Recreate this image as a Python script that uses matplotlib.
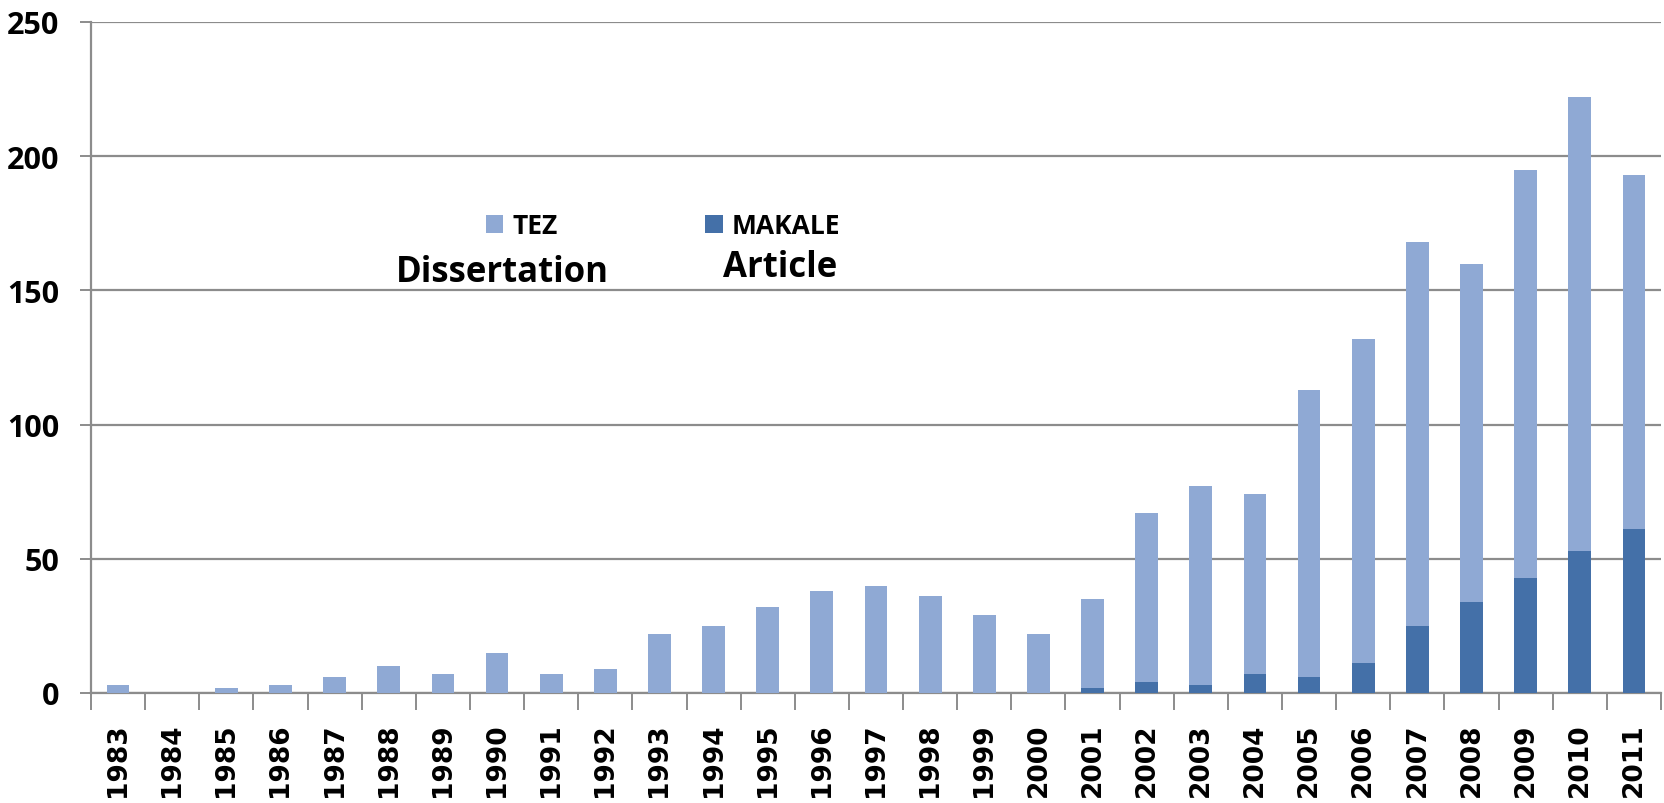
import numpy as np
import matplotlib
matplotlib.use('Agg')
import matplotlib.pyplot as plt
from matplotlib.ticker import MultipleLocator

# data
years = [str(y) for y in range(1983, 2012)]
makale = [0, 0, 0, 0, 0, 0, 0, 0, 0, 0, 0, 0, 0, 0, 0, 0, 0, 0,
          2, 4, 3, 7, 6, 11, 25, 34, 43, 53, 61]
tez = [3, 0, 2, 3, 6, 10, 7, 15, 7, 9, 22, 25, 32, 38, 40, 36, 29, 22,
       33, 63, 74, 67, 107, 121, 143, 126, 152, 169, 132]

tez_color = '#8FA9D4'
makale_color = '#4470A8'
grid_color = '#8c8c8c'

W, H = 1665, 804
fig = plt.figure(figsize=(W / 100, H / 100), dpi=100)
ax = fig.add_axes([91 / W, 110 / H, 1570 / W, 671 / H])

x = np.arange(len(years))
b_mak = ax.bar(x, makale, width=0.42, color=makale_color, zorder=3, label='MAKALE')
b_tez = ax.bar(x, tez, width=0.42, bottom=makale, color=tez_color, zorder=3, label='TEZ')

ax.set_xlim(-0.5, len(years) - 0.5)
ax.set_ylim(0, 250)
ax.yaxis.set_major_locator(MultipleLocator(50))
ax.grid(axis='y', color=grid_color, linewidth=1.6, zorder=0)

for side in ['top', 'right']:
    ax.spines[side].set_visible(False)
for side in ['left', 'bottom']:
    ax.spines[side].set_color(grid_color)
    ax.spines[side].set_linewidth(1.6)

# labels in the middle, tick marks between the categories
ax.set_xticks(x)
ax.set_xticklabels(years, rotation=90, fontsize=19, fontweight='bold',
                   family='DejaVu Sans')
ax.set_xticks(np.arange(-0.5, len(years)), minor=True)
ax.tick_params(axis='x', which='major', length=0, pad=21)
ax.tick_params(axis='x', which='minor', length=12, width=1.4, color=grid_color)
ax.tick_params(axis='y', length=8, width=1.4, color=grid_color, pad=15)
for lbl in ax.get_yticklabels():
    lbl.set_family('Open Sans')
    lbl.set_fontsize(22)
    lbl.set_fontweight('bold')

fig.legend(handles=[b_tez, b_mak], labels=['TEZ', 'MAKALE'], ncol=2,
           loc='center left', bbox_to_anchor=(486 / W, 1 - 227 / H),
           frameon=False, borderpad=0, borderaxespad=0,
           handlelength=0.65, handleheight=0.65,
           handletextpad=0.35, columnspacing=5.6,
           prop={'family': 'Open Sans', 'size': 19, 'weight': 'bold'})

fig.text(502 / W, 1 - 282 / H, 'Dissertation', ha='center', va='baseline',
         fontsize=25, fontweight='bold', family='Open Sans', color='black')
fig.text(780 / W, 1 - 277 / H, 'Article', ha='center', va='baseline',
         fontsize=25, fontweight='bold', family='Open Sans', color='black')

fig.savefig('out.png', dpi=100)
